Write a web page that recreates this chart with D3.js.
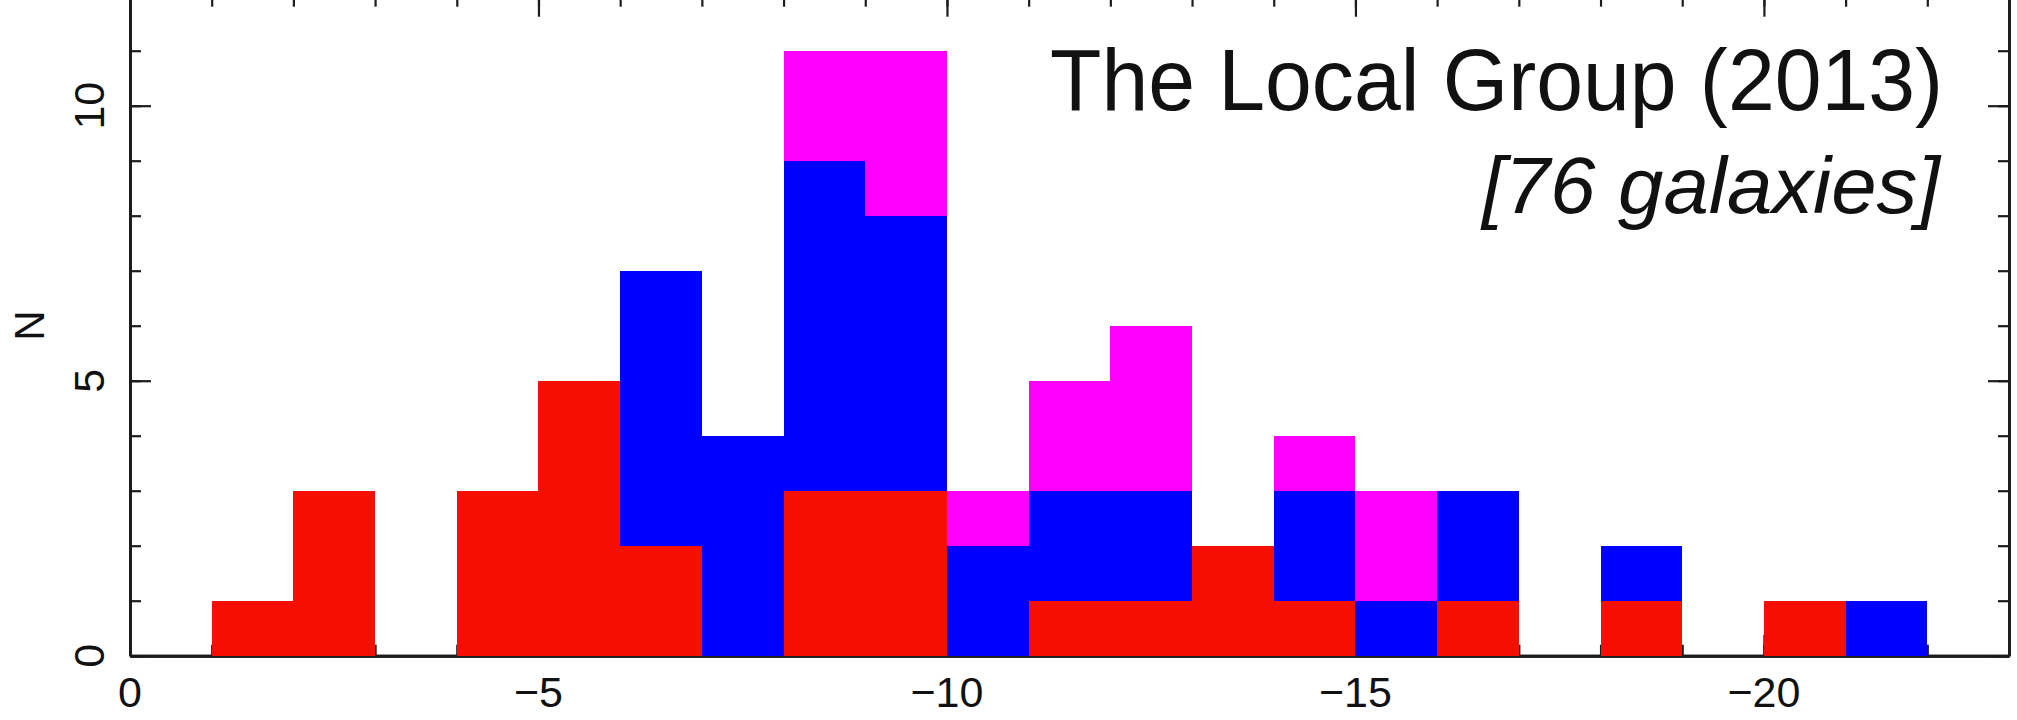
<!DOCTYPE html>
<html>
<head>
<meta charset="utf-8">
<script src="https://cdn.jsdelivr.net/npm/d3@7"></script>
<style>
  html, body { margin: 0; padding: 0; background: #ffffff; }
  svg { display: block; }
  text { font-family: "Liberation Sans", Arial, Helvetica, sans-serif; fill: #111; }
</style>
</head>
<body>
<script>
// ---- Data (absolute magnitude bins, each 1 mag wide, starting at binStart) ----
const binStart = [0,-1,-2,-3,-4,-5,-6,-7,-8,-9,-10,-11,-12,-13,-14,-15,-16,-17,-18,-19,-20,-21,-22];
const redCounts     = [0,1,3,0,3,5,2,0,3,3,0,1,1,2,1,0,1,0,1,0,1,0,0];
const blueCounts    = [0,0,0,0,0,0,5,4,6,5,2,2,2,0,2,1,2,0,1,0,0,1,0];
const magentaCounts = [0,0,0,0,0,0,0,0,2,3,1,2,3,0,1,2,0,0,0,0,0,0,0];
const seriesKeys = ["red", "blue", "magenta"];
const seriesColors = ["#f60f00", "#0000ff", "#ff00ff"];
const xMajorTicks = [0,-5,-10,-15,-20];
const yMajorTicks = [0,5,10];
const yAxisTitle = "N";
const titleLine1 = "The Local Group (2013)";
const titleLine2 = "[76 galaxies]";

// ---- Layout ----
const W = 2017, H = 720;
const plotLeft = 130, plotRight = 2009;
const plotBottom = 655.7, plotTop = -4.3;

const x = d3.scaleLinear().domain([0, -23]).range([plotLeft, plotRight]);
const y = d3.scaleLinear().domain([0, 12]).range([plotBottom, plotTop]);

const svg = d3.select("body").append("svg")
  .attr("width", W).attr("height", H);

const table = binStart.map((b, i) => ({
  start: b, red: redCounts[i], blue: blueCounts[i], magenta: magentaCounts[i]
}));
const stacked = d3.stack().keys(seriesKeys)(table);

const frameColor = "#1c1c1c";
const majorLen = 21, minorLen = 11;
const xMinor = d3.range(0, -24, -1);
const yMinor = d3.range(0, 13, 1);

function styleAxis(g) {
  g.selectAll(".domain").attr("stroke", frameColor).attr("stroke-width", 3);
  g.selectAll(".tick line").attr("stroke", frameColor).attr("stroke-width", 2.2);
  g.selectAll(".tick text").remove();
}

// frame + ticks (inward on all four sides)
const axes = [
  [d3.axisBottom(x).tickValues(xMinor).tickSizeInner(-minorLen).tickSizeOuter(0), `translate(0,${plotBottom})`],
  [d3.axisBottom(x).tickValues(xMajorTicks).tickSizeInner(-majorLen).tickSizeOuter(0), `translate(0,${plotBottom})`],
  [d3.axisTop(x).tickValues(xMinor).tickSizeInner(-minorLen).tickSizeOuter(0), `translate(0,${plotTop})`],
  [d3.axisTop(x).tickValues(xMajorTicks).tickSizeInner(-majorLen).tickSizeOuter(0), `translate(0,${plotTop})`],
  [d3.axisLeft(y).tickValues(yMinor).tickSizeInner(-minorLen).tickSizeOuter(0), `translate(${plotLeft},0)`],
  [d3.axisLeft(y).tickValues(yMajorTicks).tickSizeInner(-majorLen).tickSizeOuter(0), `translate(${plotLeft},0)`],
  [d3.axisRight(y).tickValues(yMinor).tickSizeInner(-minorLen).tickSizeOuter(0), `translate(${plotRight},0)`],
  [d3.axisRight(y).tickValues(yMajorTicks).tickSizeInner(-majorLen).tickSizeOuter(0), `translate(${plotRight},0)`]
];
axes.forEach(([ax, tr]) => {
  svg.append("g").attr("transform", tr).call(ax).call(styleAxis);
});

// stacked bars
svg.append("g").selectAll("g")
  .data(stacked)
  .join("g")
  .attr("fill", (d, i) => seriesColors[i])
  .selectAll("rect")
  .data(d => d.filter(s => s[1] > s[0]))
  .join("rect")
  .attr("x", d => x(d.data.start))
  .attr("width", d => x(d.data.start - 1) - x(d.data.start))
  .attr("y", d => y(d[1]))
  .attr("height", d => y(d[0]) - y(d[1]))
  .attr("shape-rendering", "crispEdges");

// x tick labels
const fmt = d3.format("d");
svg.append("g").selectAll("text")
  .data(xMajorTicks)
  .join("text")
  .attr("x", d => x(d))
  .attr("y", 706.5)
  .attr("text-anchor", "middle")
  .attr("font-size", 43)
  .text(d => fmt(d));

// y tick labels (rotated)
svg.append("g").selectAll("text")
  .data(yMajorTicks)
  .join("text")
  .attr("transform", d => `translate(103.5,${y(d)}) rotate(-90)`)
  .attr("text-anchor", "middle")
  .attr("font-size", 43)
  .text(d => fmt(d));

// y axis title
svg.append("text")
  .attr("transform", `translate(44,${(plotTop + plotBottom) / 2}) rotate(-90)`)
  .attr("text-anchor", "middle")
  .attr("font-size", 42)
  .text(yAxisTitle);

// annotation
svg.append("text")
  .attr("x", 1943).attr("y", 110)
  .attr("text-anchor", "end")
  .attr("font-size", 88)
  .attr("textLength", 893)
  .attr("lengthAdjust", "spacingAndGlyphs")
  .attr("fill", "#000")
  .text(titleLine1);
svg.append("text")
  .attr("x", 1940).attr("y", 213)
  .attr("text-anchor", "end")
  .attr("font-size", 80)
  .attr("textLength", 458)
  .attr("lengthAdjust", "spacingAndGlyphs")
  .attr("font-style", "italic")
  .attr("fill", "#000")
  .text(titleLine2);
</script>
</body>
</html>
